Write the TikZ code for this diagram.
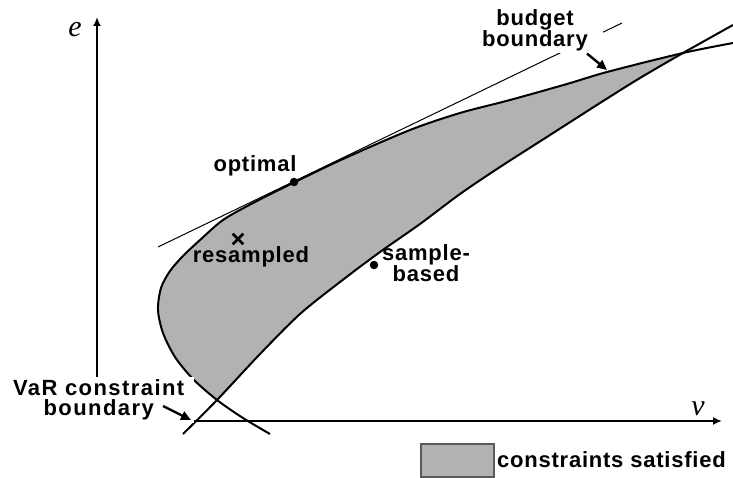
\documentclass[tikz,border=0pt]{standalone}
\usepackage{fontspec}
\newfontfamily\lblfont{Liberation Sans}[LetterSpace=3.5]
\newfontfamily\widelblfont{Liberation Sans}[LetterSpace=6.5]
\newfontfamily\axfont{Liberation Serif}
\usetikzlibrary{arrows.meta,shapes.misc}
\definecolor{okfill}{RGB}{178,178,178}
\definecolor{legendedge}{RGB}{90,90,90}

\begin{document}
\begin{tikzpicture}[x=1pt,y=-1pt,
  lbl/.style={font=\lblfont\bfseries\fontsize{22}{18.5}\selectfont, inner sep=0pt, align=center},
  curve/.style={line width=2pt, line join=round},
  tangent/.style={line width=1pt},
  axis/.style={line width=2.6pt, -{Latex[length=9pt,width=8pt]}},
  axlbl/.style={font=\axfont\itshape\fontsize{30}{30}\selectfont, inner sep=0pt},
  dot/.style={circle, fill=black, inner sep=0pt, minimum size=8.5pt},
  xmark/.style={cross out, draw=black, line width=2.6pt, inner sep=0pt, minimum size=8pt},
  pointer/.style={line width=2.4pt, -{Triangle[length=10pt,width=9pt]}},
  legendbox/.style={draw=legendedge, fill=okfill, line width=1.4pt, inner sep=0pt, minimum width=73pt, minimum height=33pt}]

\useasboundingbox (0,0) rectangle (733,478);

% region where both constraints hold
\begin{scope}
  \clip plot[smooth] coordinates {(270,434) (243,418) (217,400) (193,379) (175,357) (163,333) (158,310) (161,288) (170,271) (183,256) (200,240) (223,220) (253,203) (293,183) (343,159) (410,130) (460,113) (510,100) (567,84) (607,72) (683,53) (733,43)} -- cycle;
  \fill[okfill] plot[smooth] coordinates {(183,434) (217,400) (260,354) (300,314) (340,282) (380,252) (420,224) (460,194) (500,167) (550,135) (600,103) (640,78) (683,53) (733,25)} -- (733,0) -- (0,0) -- (0,434) -- cycle;
\end{scope}

% tangent at the optimum
\coordinate (tanA) at (158,247);
\coordinate (tanB) at (622,23);
\draw[tangent] (tanA) -- (tanB);

% budget boundary and VaR constraint boundary
\draw[curve] plot[smooth] coordinates {(270,434) (243,418) (217,400) (193,379) (175,357) (163,333) (158,310) (161,288) (170,271) (183,256) (200,240) (223,220) (253,203) (293,183) (343,159) (410,130) (460,113) (510,100) (567,84) (607,72) (683,53) (733,43)};
\draw[curve] plot[smooth] coordinates {(183,434) (217,400) (260,354) (300,314) (340,282) (380,252) (420,224) (460,194) (500,167) (550,135) (600,103) (640,78) (683,53) (733,25)};

% axes
\coordinate (O) at (97,421);
\coordinate (ytop) at (97,17);
\coordinate (xend) at (722,421);
\draw[axis] (O) -- (ytop);
\draw[axis] (O) -- (xend);
\node[axlbl] (elbl) at (75,30) {e};
\node[axlbl] (vlbl) at (698,409) {v};

% portfolios
\node[dot] (opt) at (294,182) {};
\node[dot] (samp) at (374,265) {};
\node[xmark] (resamp) at (238,239) {};

% labels
\node[lbl, anchor=base] (optlbl) at (255,172) {optimal};
\node[lbl, anchor=base] (reslbl) at (251,262) {resampled};
\node[lbl] (samplbl) at (426,263) {sample-\\based};
\node[lbl, fill=white, anchor=east, inner xsep=15pt, inner ysep=2pt] (budgetlbl) at (603,30.3) {budget\\boundary};
\node[lbl, fill=white, anchor=east, inner xsep=9.5pt, inner ysep=2.5pt, font=\widelblfont\bfseries\fontsize{22}{20}\selectfont] (varlbl) at (194,400) {VaR constraint\\boundary};

% pointers to the boundaries
\coordinate (budgettip) at (607,70);
\coordinate (vartip) at (191,420);
\draw[pointer] ([xshift=-16pt]budgetlbl.south east) -- (budgettip);
\draw[pointer] ([xshift=-31pt,yshift=-6pt]varlbl.east) -- (vartip);

% legend
\node[legendbox] (legbox) at (457.5,460.5) {};
\node[lbl, anchor=base west] (leglbl) at (497,467) {constraints satisfied};
\end{tikzpicture}
\end{document}
